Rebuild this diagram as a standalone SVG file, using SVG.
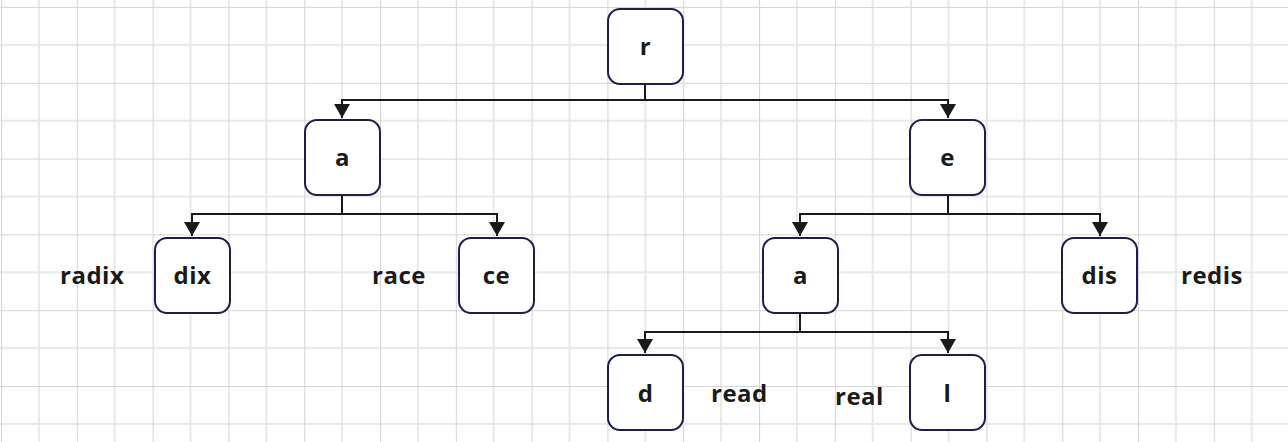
<svg xmlns="http://www.w3.org/2000/svg" width="1288" height="442" viewBox="0 0 1288 442">
<defs>
<pattern id="grid" patternUnits="userSpaceOnUse" x="1" y="7" width="75.8" height="75.8">
<path d="M37.9 0V75.8M0 37.9H75.8" stroke="#e8e8e8" stroke-width="2" fill="none"/>
<path d="M0 0V75.8M0 0H75.8" stroke="#d5d5d5" stroke-width="2.2" fill="none"/>
</pattern>
<marker id="arr" markerUnits="userSpaceOnUse" markerWidth="16" markerHeight="16" refX="14" refY="8" orient="auto">
<path d="M0 0L14 8L0 16Z" fill="#1a1a1a"/>
</marker>
</defs>
<style>
.n rect{fill:#fff;stroke:#1c1f4a;stroke-width:2}
.n text,.lbl{font-family:"Open Sans","Noto Sans",sans-serif;font-weight:bold;font-size:24px;fill:#1a1a1a;letter-spacing:0.5px}
.n text{text-anchor:middle}
.c path{fill:none;stroke:#1a1a1a;stroke-width:2;marker-end:url(#arr)}
</style>
<rect width="1288" height="442" fill="#fff"/>
<rect width="1288" height="442" fill="url(#grid)"/>
<g class="c" id="connectors">
<path d="M645 84V100H342V118"/>
<path d="M645 100H948V118"/>
<path d="M342 195V214H192V236"/>
<path d="M342 214H497V236"/>
<path d="M948 195V214H800V236"/>
<path d="M948 214H1100V236"/>
<path d="M800 313V332H645V353"/>
<path d="M800 332H948V353"/>
</g>
<g class="n" id="node-r"><rect x="608" y="9" width="75" height="75" rx="12"/><text x="645.5" y="55">r</text></g>
<g class="n" id="node-a1"><rect x="305" y="120" width="75" height="75" rx="12"/><text x="342.5" y="166">a</text></g>
<g class="n" id="node-e"><rect x="910" y="120" width="75" height="75" rx="12"/><text x="947.5" y="166">e</text></g>
<g class="n" id="node-dix"><rect x="155" y="238" width="75" height="75" rx="12"/><text x="192.5" y="284">dix</text></g>
<g class="n" id="node-ce"><rect x="459" y="238" width="75" height="75" rx="12"/><text x="496.5" y="284">ce</text></g>
<g class="n" id="node-a2"><rect x="763" y="238" width="75" height="75" rx="12"/><text x="800.5" y="284">a</text></g>
<g class="n" id="node-dis"><rect x="1062" y="238" width="75" height="75" rx="12"/><text x="1099.5" y="284">dis</text></g>
<g class="n" id="node-d"><rect x="608" y="355" width="75" height="75" rx="12"/><text x="645.5" y="402">d</text></g>
<g class="n" id="node-l"><rect x="910" y="355" width="75" height="75" rx="12"/><text x="947.5" y="402">l</text></g>
<g id="labels">
<text class="lbl" x="60" y="284">radix</text>
<text class="lbl" x="372" y="284">race</text>
<text class="lbl" x="1181" y="284">redis</text>
<text class="lbl" x="711" y="402">read</text>
<text class="lbl" x="835" y="405">real</text>
</g>
</svg>
